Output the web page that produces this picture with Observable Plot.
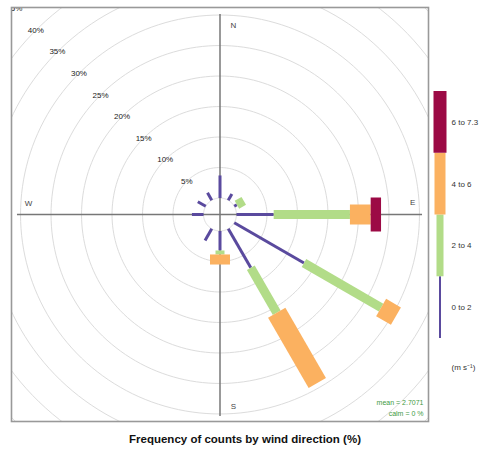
<!DOCTYPE html>
<html><head><meta charset="utf-8">
<script src="https://cdn.jsdelivr.net/npm/d3@7"></script>
<script src="https://cdn.jsdelivr.net/npm/@observablehq/plot@0.6"></script>
<style>
body{margin:0;background:#fff;font-family:"Liberation Sans",Arial,sans-serif;}
#wrap{position:relative;width:497px;height:450px;}
#main{position:absolute;left:0;top:0;opacity:0.999;}
#legend{position:absolute;left:427px;top:0;opacity:0.999;}
#caption{position:absolute;left:0;top:432px;width:490px;text-align:center;font-weight:bold;font-size:11.5px;line-height:14px;color:#111;}
</style></head><body>
<div id="wrap"><div id="main"></div><div id="legend"></div><div id="caption">Frequency of counts by wind direction (%)</div></div>
<script>
// ---- data ----
const directions = [0, 30, 60, 90, 120, 150, 180, 210, 240, 270, 300, 330];
const speedBins = ["0 to 2", "2 to 4", "4 to 6", "6 to 7.3"];
const freq0to2  = [3.7, 1.2, 0.5, 6.1, 13.2, 7.4, 3.2, 2.2, 0, 1.9, 1.5, 1.4];
const freq2to4  = [0, 0, 1.3, 12.5, 14.6, 8.5, 0.65, 0, 0, 0, 0, 0];
const freq4to6  = [0, 0, 0, 3.4, 2.8, 13.3, 1.65, 0, 0, 0, 0, 0];
const freq6to73 = [0, 0, 0, 1.7, 0, 0, 0, 0, 0, 0, 0, 0];
const ringLevels = [0, 5, 10, 15, 20, 25, 30, 35, 40, 45];
const compass = ["N", "E", "S", "W"];
const meanSpeed = "2.7071";
const calmPct = "0 %";
const unitLabel = "(m s\u207B\u00B9)";

// ---- styles ----
const colors = ["#5a4a9e", "#b2dc88", "#fbb160", "#9c0a45"];
const paddleW = [3, 9, 20, 34];
const legendW = [2, 7, 11, 13];
const hole = 2.7;              // inner hole in % units
const ppu = 6.1;               // pixels per % unit
const frameW = 417, frameH = 414;

// ---- build segments ----
const bins = [freq0to2, freq2to4, freq4to6, freq6to73];
const segs = [];
directions.forEach((dir, di) => {
  let cum = 0;
  bins.forEach((arr, bi) => {
    const v = arr[di];
    if (v > 0) {
      const a = dir * Math.PI / 180;
      const r1 = hole + cum, r2 = hole + cum + v;
      segs.push({bin: speedBins[bi], bi, x1: r1 * Math.sin(a), y1: r1 * Math.cos(a), x2: r2 * Math.sin(a), y2: r2 * Math.cos(a)});
    }
    cum += v;
  });
});
const ringPts = [];
ringLevels.forEach(l => {
  for (let t = 0; t <= 360; t += 2) {
    const a = t * Math.PI / 180;
    ringPts.push({level: l, x: (hole + l) * Math.sin(a), y: (hole + l) * Math.cos(a)});
  }
});

const hx = frameW / 2 / ppu, hy = frameH / 2 / ppu;
const compassPos = {N: [2.2, 31.0], E: [31.6, 2.0], S: [2.2, -31.5], W: [-31.4, 1.8]};

const main = Plot.plot({
  width: 497, height: 425,
  marginLeft: 11, marginRight: 69, marginTop: 7, marginBottom: 4,
  x: {domain: [-hx, hx], axis: null},
  y: {domain: [-hy, hy], axis: null},
  color: {domain: speedBins, range: colors},
  style: {fontFamily: '"Liberation Sans", Arial, sans-serif', background: "#fff"},
  marks: [
    Plot.line(ringPts, {x: "x", y: "y", z: "level", stroke: "#dcdcdc", strokeWidth: 1, clip: true}),
    Plot.ruleX([0], {y1: -33.1, y2: 32.8, stroke: "#777", strokeWidth: 1.5}),
    Plot.ruleY([0], {x1: -33.2, x2: 33.2, stroke: "#777", strokeWidth: 1.5}),
    ...speedBins.map((b, i) => Plot.link(segs.filter(s => s.bi === i), {
      x1: "x1", y1: "y1", x2: "x2", y2: "y2", stroke: "bin", strokeWidth: paddleW[i], strokeLinecap: "butt"
    })),
    Plot.text(ringLevels.filter(l => l > 0), {
      x: l => -(hole + l) / Math.SQRT2, y: l => (hole + l) / Math.SQRT2,
      text: l => l + "%", fontSize: 8, fill: "#222", clip: true
    }),
    Plot.text(compass, {x: c => compassPos[c][0], y: c => compassPos[c][1], text: c => c, fontSize: 8, fill: "#444"}),
    Plot.text([`mean = ${meanSpeed}`], {frameAnchor: "bottom-right", textAnchor: "end", lineAnchor: "middle", dx: -5, dy: -19, fontSize: 7, fill: "#3f9a3f"}),
    Plot.text([`calm = ${calmPct}`], {frameAnchor: "bottom-right", textAnchor: "end", lineAnchor: "middle", dx: -5, dy: -8, fontSize: 7, fill: "#3f9a3f"}),
    Plot.frame({stroke: "#999", strokeWidth: 1.6})
  ]
});
document.getElementById("main").appendChild(main);

const legend = Plot.plot({
  width: 70, height: 425,
  marginLeft: 0, marginRight: 0, marginTop: 0, marginBottom: 0,
  x: {domain: [-13, 57], range: [0, 70], axis: null},
  y: {domain: [0, 4], range: [338, 91], axis: null},
  color: {domain: speedBins, range: colors},
  style: {fontFamily: '"Liberation Sans", Arial, sans-serif', background: "transparent"},
  marks: [
    Plot.rect(speedBins, {x1: (d, i) => -legendW[i] / 2, x2: (d, i) => legendW[i] / 2, y1: (d, i) => i, y2: (d, i) => i + 1, fill: d => d}),
    Plot.text(speedBins, {x: 11, y: (d, i) => i + 0.5, text: d => d, textAnchor: "start", fontSize: 8, fill: "#333"}),
    Plot.text([unitLabel], {x: 11, y: -0.47, text: d => d, textAnchor: "start", fontSize: 8, fill: "#333"})
  ]
});
document.getElementById("legend").appendChild(legend);
</script>
</body></html>
